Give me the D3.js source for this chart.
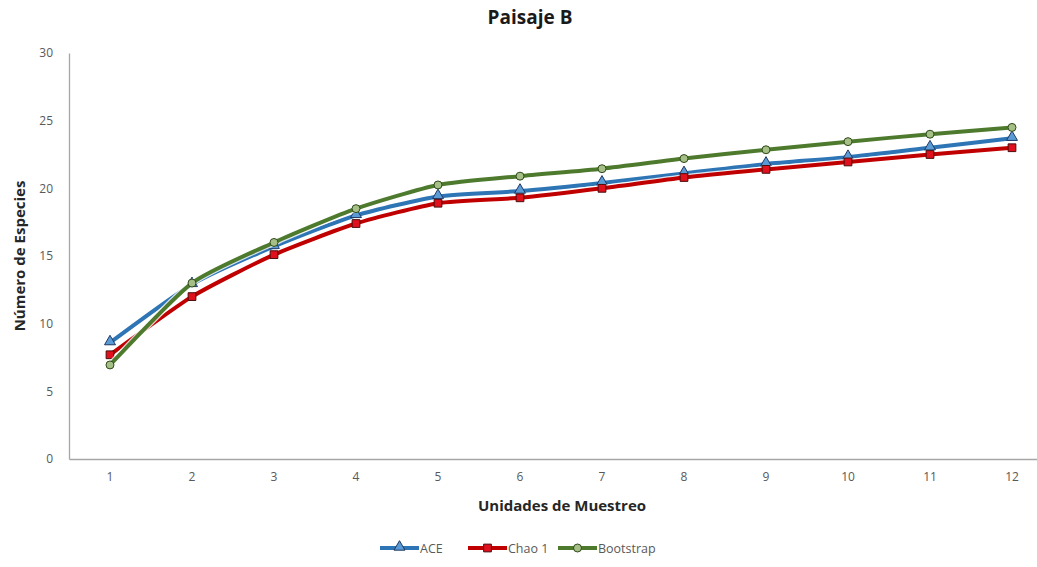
<!DOCTYPE html>
<html>
<head>
<meta charset="utf-8">
<script src="https://cdn.jsdelivr.net/npm/d3@7"></script>
<style>
  html, body { margin: 0; padding: 0; background: #fff; }
  svg { display: block; font-family: "Open Sans", "Noto Sans", sans-serif; }
</style>
</head>
<body>
<svg id="chart" width="1037" height="567"></svg>
<script>
// Sampling units on the x axis
const units = ["1", "2", "3", "4", "5", "6", "7", "8", "9", "10", "11", "12"];
// Species richness estimators
const ace       = [8.6, 12.9, 15.7, 18.0, 19.4, 19.8, 20.4, 21.1, 21.8, 22.3, 23.0, 23.7];
const chao1     = [7.7, 12.0, 15.1, 17.4, 18.9, 19.3, 20.0, 20.8, 21.4, 21.95, 22.5, 23.0];
const bootstrap = [6.95, 13.0, 16.0, 18.5, 20.25, 20.9, 21.45, 22.2, 22.85, 23.45, 24.0, 24.5];
const yTicks = [0, 5, 10, 15, 20, 25, 30];

const series = [
  { name: "ACE",       values: ace,       line: "#2E75B6", fill: "#5B9BD5", edge: "#1F3864", marker: "triangle" },
  { name: "Chao 1",    values: chao1,     line: "#C00000", fill: "#E0101C", edge: "#4A0E0E", marker: "square" },
  { name: "Bootstrap", values: bootstrap, line: "#4E7A2E", fill: "#A6BF86", edge: "#2F4A1B", marker: "circle" }
];

const svg = d3.select("#chart");
const plot = { left: 69, right: 1053, top: 53, bottom: 459 };

const x = d3.scaleBand().domain(units).range([plot.left, plot.right]);
const y = d3.scaleLinear().domain([0, 30]).range([plot.bottom, plot.top]);
const cx = d => x(d) + x.bandwidth() / 2;

// Title
svg.append("text")
  .attr("x", 530).attr("y", 24)
  .attr("text-anchor", "middle")
  .attr("font-size", 19).attr("font-weight", "bold").attr("fill", "#1a1a1a")
  .text("Paisaje B");

// Y axis
const yAxis = svg.append("g")
  .attr("transform", `translate(${plot.left},0)`)
  .call(d3.axisLeft(y).tickValues(yTicks).tickSize(0).tickPadding(16));
yAxis.select(".domain").attr("stroke", "#a6a6a6").attr("stroke-width", 1.3);
yAxis.selectAll("text").attr("font-size", 12).attr("fill", "#595959")
  .attr("font-family", "'Open Sans', sans-serif");

// X axis
const xAxis = svg.append("g")
  .attr("transform", `translate(0,${plot.bottom})`)
  .call(d3.axisBottom(x).tickSize(0).tickPadding(13));
xAxis.select(".domain").attr("stroke", "#a6a6a6").attr("stroke-width", 1.3);
xAxis.selectAll("text").attr("font-size", 12).attr("fill", "#595959")
  .attr("font-family", "'Open Sans', sans-serif");

// Axis titles
svg.append("text")
  .attr("x", 562).attr("y", 511)
  .attr("text-anchor", "middle")
  .attr("font-size", 15).attr("font-weight", "bold").attr("fill", "#262626")
  .text("Unidades de Muestreo");

svg.append("text")
  .attr("transform", `translate(25,${(plot.top + plot.bottom) / 2}) rotate(-90)`)
  .attr("text-anchor", "middle")
  .attr("font-size", 15).attr("font-weight", "bold").attr("fill", "#262626")
  .text("Número de Especies");

const symbolFor = m => m === "triangle" ? d3.symbolTriangle : m === "square" ? d3.symbolSquare : d3.symbolCircle;
const sizeFor = m => m === "triangle" ? 52 : m === "square" ? 60 : 50;

const line = d3.line().x((d, i) => cx(units[i])).y(d => y(d)).curve(d3.curveCardinal.tension(0.4));

series.forEach(s => {
  const g = svg.append("g");
  // light halo under the line
  g.append("path").datum(s.values)
    .attr("d", line).attr("fill", "none")
    .attr("stroke", "#ffffff").attr("stroke-opacity", 0.8).attr("stroke-width", 6.5)
    .attr("stroke-linejoin", "round");
  g.append("path").datum(s.values)
    .attr("d", line).attr("fill", "none")
    .attr("stroke", s.line).attr("stroke-width", 4)
    .attr("stroke-linejoin", "round").attr("stroke-linecap", "round");
  g.selectAll("path.mk").data(s.values).enter().append("path")
    .attr("class", "mk")
    .attr("transform", (d, i) => `translate(${cx(units[i])},${y(d) + (s.marker === "triangle" ? -1 : 0)})`)
    .attr("d", d3.symbol().type(symbolFor(s.marker)).size(sizeFor(s.marker)))
    .attr("fill", s.fill).attr("stroke", s.edge).attr("stroke-width", 1);
});

// Legend
const legendItems = [
  { s: series[0], x0: 380 },
  { s: series[1], x0: 468 },
  { s: series[2], x0: 558 }
];
const ly = 548;
legendItems.forEach(({ s, x0 }) => {
  const g = svg.append("g");
  g.append("line").attr("x1", x0).attr("x2", x0 + 39).attr("y1", ly).attr("y2", ly)
    .attr("stroke", s.line).attr("stroke-width", 4);
  g.append("path")
    .attr("transform", `translate(${x0 + 19.5},${ly + (s.marker === "triangle" ? -1 : 0)})`)
    .attr("d", d3.symbol().type(symbolFor(s.marker)).size(sizeFor(s.marker)))
    .attr("fill", s.fill).attr("stroke", s.edge).attr("stroke-width", 1);
  g.append("text").attr("x", x0 + 40).attr("y", ly + 4.5)
    .attr("font-size", 12.5).attr("fill", "#595959")
    .text(s.name);
});
</script>
</body>
</html>
